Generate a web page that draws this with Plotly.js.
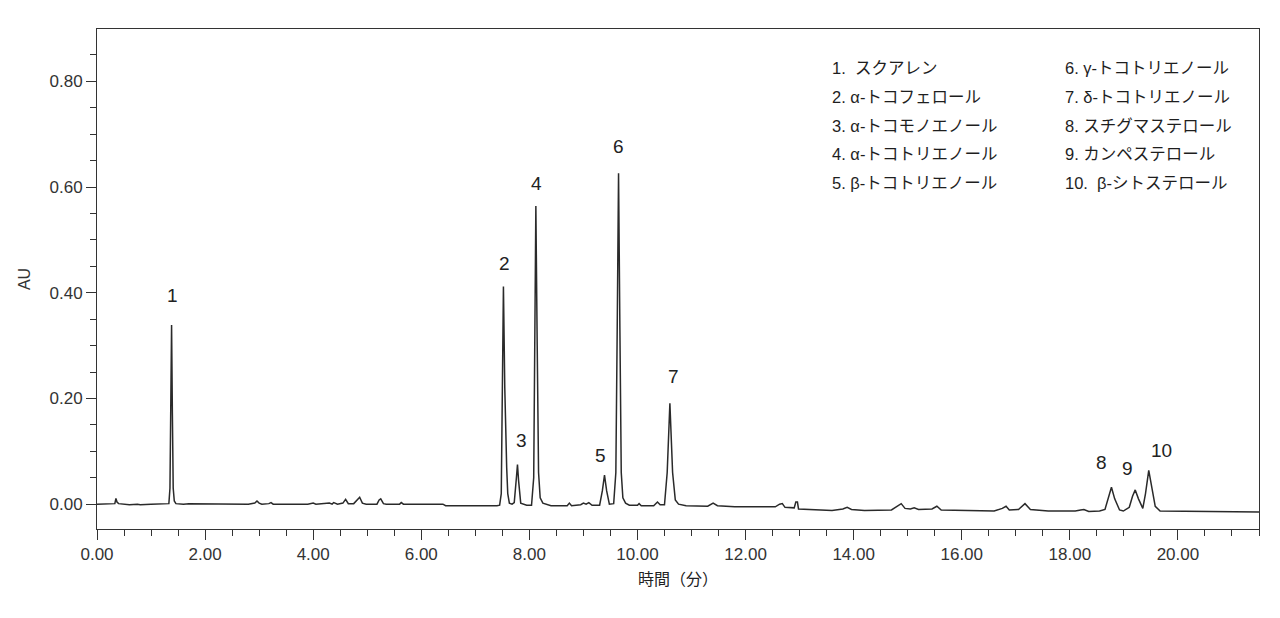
<!DOCTYPE html>
<html>
<head>
<meta charset="utf-8">
<script src="https://cdn.plot.ly/plotly-3.0.1.min.js"></script>
<style>
html,body{margin:0;padding:0;background:#fff;}
#chart{width:1280px;height:618px;}
</style>
</head>
<body>
<div id="chart"></div>
<script>
// Chromatogram trace: retention time (min) and absorbance (AU)
const time = [
  0.00,0.30,0.33,0.35,0.37,0.40,0.50,0.60,0.75,0.80,1.00,1.30,
  1.33,1.35,1.365,1.38,1.395,1.41,1.43,1.46,1.60,1.70,
  2.80,2.92,2.96,3.00,3.05,3.18,3.22,3.26,3.90,4.00,4.05,4.25,4.30,4.35,4.38,4.45,
  4.55,4.60,4.65,4.75,4.82,4.86,4.91,4.98,5.18,5.22,5.25,5.30,5.35,5.60,5.63,5.67,
  6.40,6.45,7.40,
  7.45,7.48,7.50,7.52,7.545,7.565,7.58,7.60,7.63,7.68,
  7.72,7.76,7.78,7.80,7.84,7.95,
  8.04,8.08,8.10,8.12,8.145,8.17,8.20,8.25,8.40,
  8.70,8.74,8.78,8.95,9.00,9.05,9.10,9.16,
  9.30,9.35,9.39,9.43,9.48,
  9.56,9.60,9.625,9.65,9.675,9.70,9.73,9.78,9.85,
  10.00,10.03,10.07,10.30,10.37,10.42,
  10.50,10.55,10.60,10.65,10.70,10.76,10.90,
  11.30,11.40,11.48,11.60,11.70,11.80,12.10,12.55,12.63,12.68,12.73,
  12.90,12.93,12.96,12.98,13.30,13.60,13.80,13.88,13.96,14.20,14.70,
  14.82,14.88,14.95,15.05,15.12,15.20,15.45,15.54,15.62,16.00,16.60,
  16.75,16.82,16.88,17.05,17.17,17.27,17.60,18.10,18.20,18.26,18.35,18.55,
  18.65,18.72,18.77,18.83,18.92,18.99,
  19.10,19.16,19.21,19.27,19.35,
  19.40,19.46,19.52,19.58,19.67,20.50,21.50
];
const absorbance = [
  0.000,0.000,0.001,0.011,0.004,0.001,0.000,-0.001,0.000,-0.001,0.000,0.000,
  0.001,0.030,0.180,0.339,0.170,0.030,0.006,0.001,0.000,0.001,
  0.000,0.002,0.006,0.002,0.000,0.001,0.003,0.000,0.000,0.002,0.000,0.001,0.002,0.000,0.003,0.000,
  0.002,0.009,0.001,0.001,0.009,0.013,0.002,0.000,0.000,0.008,0.010,0.001,0.000,0.000,0.003,0.000,
  0.000,-0.003,-0.003,
  -0.002,0.020,0.220,0.412,0.220,0.085,0.070,0.020,0.002,0.000,
  0.003,0.050,0.075,0.045,0.002,-0.002,
  -0.002,0.050,0.300,0.564,0.300,0.060,0.012,0.002,-0.003,
  -0.003,0.002,-0.003,-0.001,0.002,0.000,0.003,-0.002,
  -0.002,0.025,0.055,0.025,0.000,
  0.001,0.060,0.330,0.626,0.330,0.060,0.012,0.002,-0.002,
  -0.002,0.001,-0.003,-0.003,0.004,-0.001,
  -0.001,0.060,0.191,0.060,0.008,0.000,-0.003,
  -0.004,0.002,-0.003,-0.004,-0.004,-0.005,-0.005,-0.005,0.000,0.001,-0.006,
  -0.007,0.004,0.004,-0.009,-0.011,-0.012,-0.009,-0.006,-0.010,-0.012,-0.011,
  -0.002,0.001,-0.008,-0.009,-0.007,-0.010,-0.009,-0.004,-0.011,-0.012,-0.013,
  -0.008,-0.004,-0.011,-0.010,0.001,-0.010,-0.013,-0.013,-0.011,-0.010,-0.014,-0.013,
  -0.010,0.015,0.032,0.010,-0.011,-0.013,
  -0.006,0.015,0.027,0.010,-0.008,
  0.020,0.064,0.030,-0.004,-0.013,-0.014,-0.015
];

// Peak number labels (placed above each peak, in data coordinates)
const peakLabels = ["1","2","3","4","5","6","7","8","9","10"];
const peakLabelTime = [1.39,7.54,7.85,8.13,9.31,9.64,10.66,18.58,19.06,19.69];
const peakLabelAU = [0.394,0.455,0.121,0.606,0.093,0.676,0.242,0.078,0.068,0.102];

// Compound names (legend list)
const compoundsLeft = ["1.  スクアレン","2. α-トコフェロール","3. α-トコモノエノール","4. α-トコトリエノール","5. β-トコトリエノール"];
const compoundsRight = ["6. γ-トコトリエノール","7. δ-トコトリエノール","8. スチグマステロール","9. カンペステロール","10.  β-シトステロール"];

const yTicks = [0, 0.2, 0.4, 0.6, 0.8];
const xTicks = [0,2,4,6,8,10,12,14,16,18,20];

const numFont = "Liberation Sans, Arial, sans-serif";
const jpFont = "Liberation Sans, Noto Sans CJK JP, sans-serif";

const annotations = [];
peakLabels.forEach((t, i) => {
  annotations.push({
    x: peakLabelTime[i], y: peakLabelAU[i], xref: 'x', yref: 'y',
    text: t, showarrow: false, xanchor: 'center', yanchor: 'middle',
    font: {family: numFont, size: 19, color: '#222'}
  });
});
compoundsLeft.forEach((t, i) => {
  annotations.push({
    x: 830, y: 68 + i * 28.8, xref: 'paper', yref: 'paper', text: t,
    showarrow: false, xanchor: 'left', yanchor: 'middle',
    font: {family: jpFont, size: 16.5, color: '#1e1e1e'}
  });
});
compoundsRight.forEach((t, i) => {
  annotations.push({
    x: 1063, y: 68 + i * 28.8, xref: 'paper', yref: 'paper', text: t,
    showarrow: false, xanchor: 'left', yanchor: 'middle',
    font: {family: jpFont, size: 16.5, color: '#1e1e1e'}
  });
});

const M = {l: 97, r: 21, t: 29, b: 89};
const W = 1280, H = 618;
const pw = W - M.l - M.r, ph = H - M.t - M.b;
// convert pixel legend placement to paper coords
annotations.forEach(a => {
  if (a.xref === 'paper') {
    a.x = (a.x - M.l) / pw;
    a.y = 1 - (a.y - M.t) / ph;
  }
});

const trace = {
  x: time, y: absorbance, type: 'scatter', mode: 'lines',
  line: {color: '#2a2a2a', width: 1.5}, hoverinfo: 'skip'
};

const layout = {
  width: W, height: H, margin: M,
  paper_bgcolor: '#fff', plot_bgcolor: '#fff', showlegend: false,
  xaxis: {
    range: [0, 21.5], tickvals: xTicks, ticktext: xTicks.map(v => v.toFixed(2)),
    ticks: 'outside', ticklen: 10, tickwidth: 1, tickcolor: '#333',
    minor: {dtick: 0.5, tick0: 0, ticks: 'outside', ticklen: 6, tickwidth: 1, tickcolor: '#333'},
    showline: true, mirror: true, linecolor: '#333', linewidth: 1,
    showgrid: false, zeroline: false,
    tickfont: {family: numFont, size: 17, color: '#333'},
    title: {text: '時間（分）', font: {family: jpFont, size: 16, color: '#222'}, standoff: 10}
  },
  yaxis: {
    range: [-0.047, 0.899], tickvals: yTicks, ticktext: yTicks.map(v => v.toFixed(2)),
    ticks: 'outside', ticklen: 10, tickwidth: 1, tickcolor: '#333',
    minor: {dtick: 0.05, tick0: 0, ticks: 'outside', ticklen: 6, tickwidth: 1, tickcolor: '#333'},
    showline: true, mirror: true, linecolor: '#333', linewidth: 1,
    showgrid: false, zeroline: false,
    tickfont: {family: numFont, size: 17, color: '#333'},
    title: {text: 'AU', font: {family: numFont, size: 16, color: '#333'}, standoff: 14}
  },
  annotations: annotations
};

Plotly.newPlot('chart', [trace], layout, {staticPlot: true, displayModeBar: false});
</script>
</body>
</html>
